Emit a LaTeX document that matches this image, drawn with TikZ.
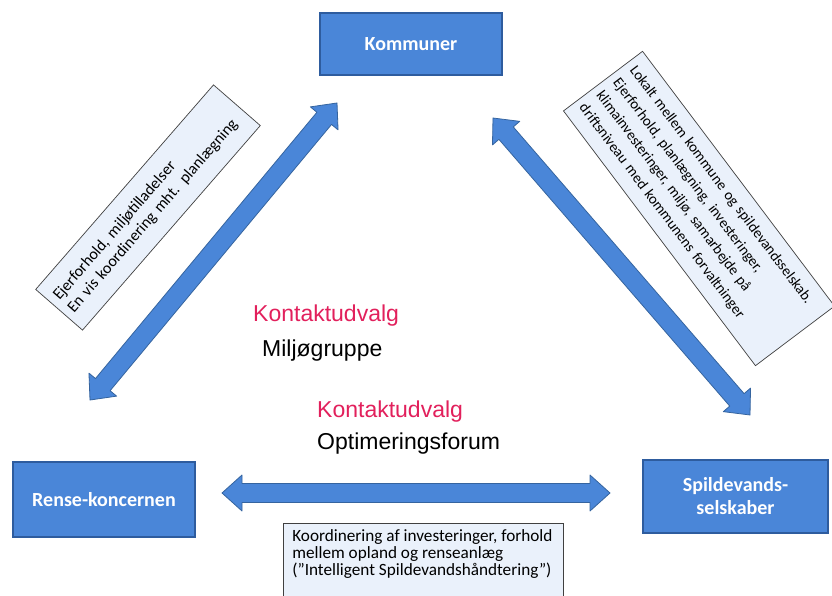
\documentclass[tikz,border=0pt]{standalone}
\usepackage{fontspec}
\setmainfont{Liberation Sans}
\newfontfamily\calfont{Carlito}
\usetikzlibrary{calc}
\definecolor{boxblue}{HTML}{4A86D8}
\definecolor{boxedge}{HTML}{2E5C9E}
\definecolor{arrowblue}{HTML}{4A86D8}
\definecolor{arrowedge}{HTML}{35649F}
\definecolor{notefill}{HTML}{EAF1FB}
\definecolor{noteedge}{HTML}{404040}
\definecolor{kred}{HTML}{E2205C}
\tikzset{
  bluebox/.style={draw=boxedge, line width=1.2pt, fill=boxblue, text=white,
    font=\calfont\bfseries\fontsize{20}{23}\selectfont, align=center, inner sep=0pt},
  notebox/.style={draw=noteedge, line width=0.7pt, fill=notefill,
    font=\calfont\fontsize{14.5}{18.5}\selectfont, align=left, inner sep=0pt},
  fatarrow/.style={draw=arrowedge, line width=0.8pt, fill=arrowblue, line join=round},
  redlabel/.style={text=kred, font=\fontsize{23}{26}\selectfont, anchor=west, inner sep=0pt},
  blacklabel/.style={text=black, font=\fontsize{23}{26}\selectfont, anchor=west, inner sep=0pt}
}
\newcommand\fatarrowpath[2]{%
  \draw[fatarrow] let \p1=($(#2)-(#1)$), \n1={atan2(\y1,\x1)} in
    (#1) -- ($(#1)+(\n1:20pt)+(\n1+90:18pt)$) -- ($(#1)+(\n1:20pt)+(\n1+90:9.5pt)$)
    -- ($(#2)+(\n1+180:20pt)+(\n1+90:9.5pt)$) -- ($(#2)+(\n1+180:20pt)+(\n1+90:18pt)$)
    -- (#2) -- ($(#2)+(\n1+180:20pt)+(\n1-90:18pt)$) -- ($(#2)+(\n1+180:20pt)+(\n1-90:9.5pt)$)
    -- ($(#1)+(\n1:20pt)+(\n1-90:9.5pt)$) -- ($(#1)+(\n1:20pt)+(\n1-90:18pt)$) -- cycle;}
\begin{document}
\begin{tikzpicture}[x=1pt,y=-1pt]
\useasboundingbox (0,0) rectangle (832,596);
\fill[white] (0,0) rectangle (832,596);

% main boxes
\node[bluebox, minimum width=182pt, minimum height=62pt] (kom) at (411,44) {Kommuner};
\node[bluebox, minimum width=182pt, minimum height=75pt] (rense) at (104,499.5) {Rense-koncernen};
\node[bluebox, minimum width=185pt, minimum height=73pt] (spild) at (735.5,496.5) {Spildevands-\\selskaber};

% arrow end points
\coordinate (a1) at (90,400);
\coordinate (a2) at (337,103);
\coordinate (b1) at (493,118);
\coordinate (b2) at (750,415);
\coordinate (c1) at (222,493);
\coordinate (c2) at (610,493);
\fatarrowpath{a1}{a2}
\fatarrowpath{b1}{b2}
\fatarrowpath{c1}{c2}

% rotated notes
\node[notebox, font=\calfont\fontsize{16}{19}\selectfont, rotate=49, minimum width=271pt, minimum height=62pt, text width=257pt] (nleft) at (148,207.5)
  {Ejerforhold, miljøtilladelser\\En vis koordinering mht. planlægning};
\node[notebox, font=\calfont\fontsize{14.8}{21}\selectfont, rotate=-53, minimum width=319pt, minimum height=99pt, text width=305pt] (nright) at (699,208.5)
  {Lokalt mellem kommune og spildevandsselskab.\\Ejerforhold, planlægning, investeringer,\\klimainvesteringer, miljø, samarbejde på\\driftsniveau med kommunens forvaltninger};

% bottom note
\node[draw=noteedge, line width=0.7pt, fill=notefill, anchor=north west, minimum width=280pt, minimum height=90pt] (nbot) at (283,523) {};
\node[notebox, font=\calfont\fontsize{17.2}{17.3}\selectfont, draw=none, fill=none, anchor=north west] (nbott) at ($(nbot.north west)+(9,6)$)
  {Koordinering af investeringer, forhold\\mellem opland og renseanlæg\\(”Intelligent Spildevandshåndtering”)};

% centre labels
\node[redlabel] (k1) at (253,316) {Kontaktudvalg};
\node[blacklabel] (m1) at (262,351) {Miljøgruppe};
\node[redlabel] (k2) at (317,412) {Kontaktudvalg};
\node[blacklabel] (o1) at (317,444) {Optimeringsforum};
\end{tikzpicture}
\end{document}
